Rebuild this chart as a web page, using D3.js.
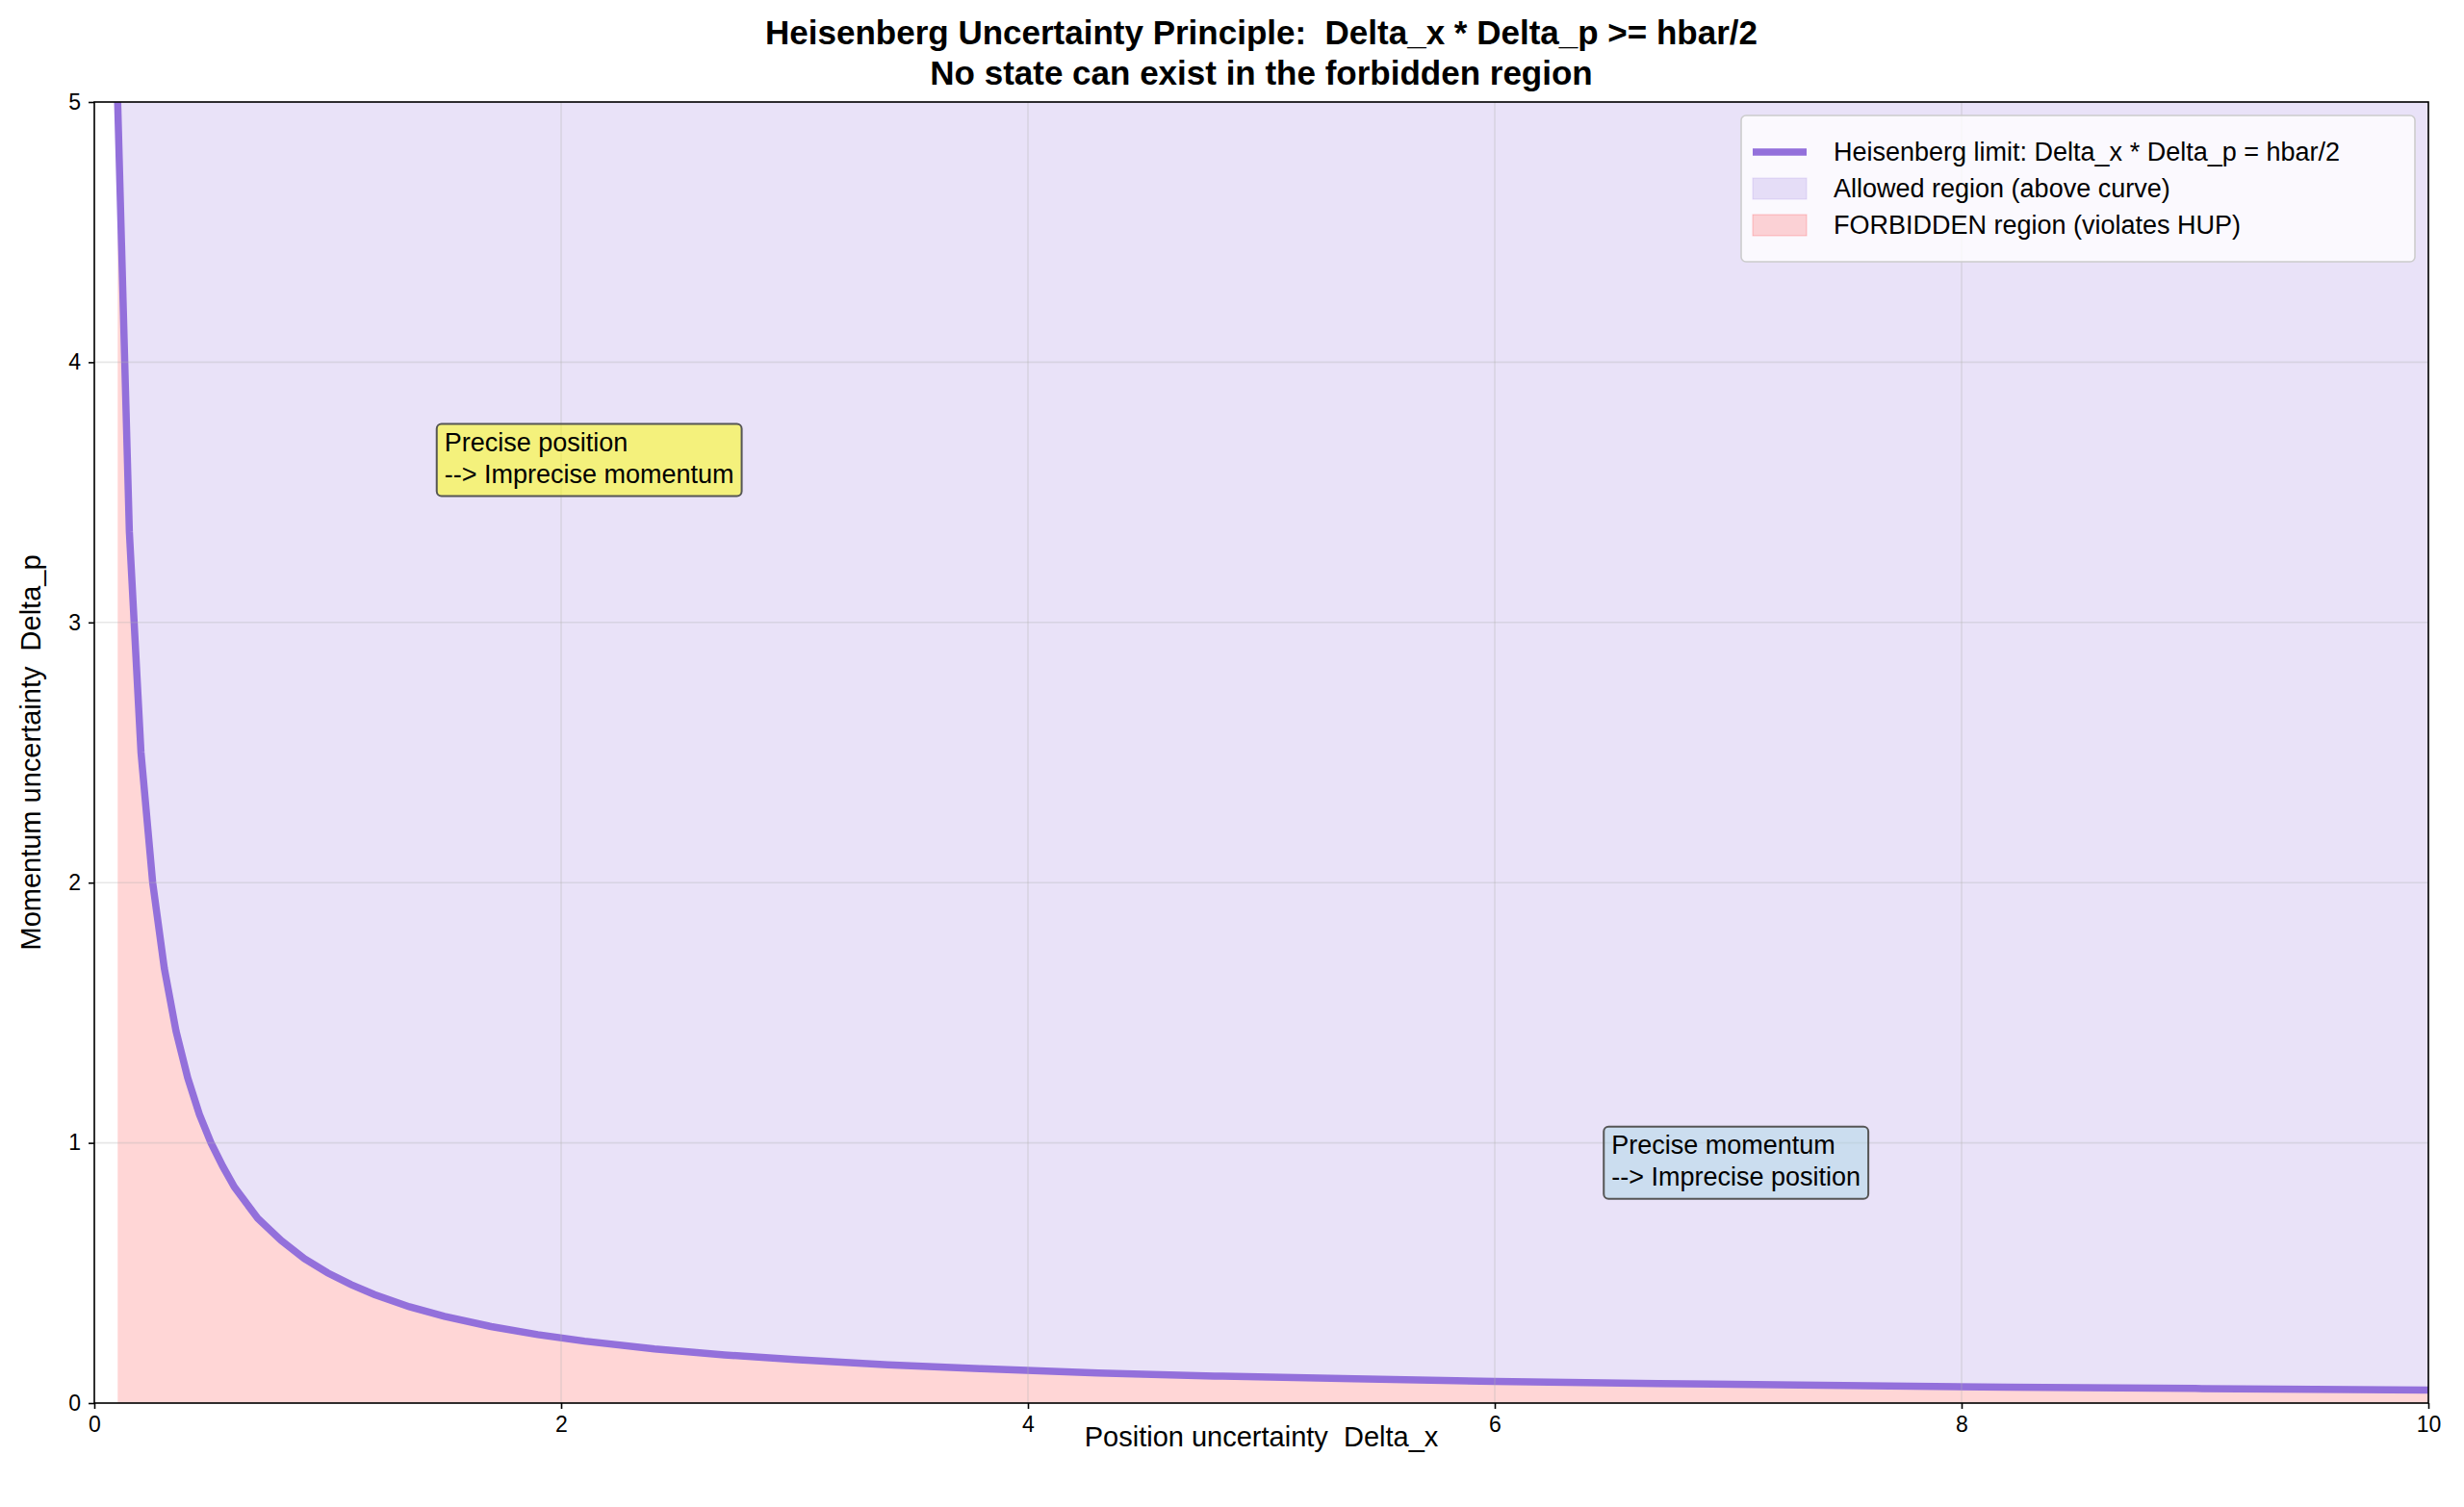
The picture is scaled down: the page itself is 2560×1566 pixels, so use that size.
<!DOCTYPE html>
<html><head><meta charset="utf-8">
<script src="https://cdn.jsdelivr.net/npm/d3@7"></script>
<style>body{margin:0;background:#fff}svg{display:block;font-family:"Liberation Sans",Arial,sans-serif}text{white-space:pre}</style>
</head><body><svg id="chart" width="2560" height="1566"></svg>
<script>
const dx = [0.1, 0.15, 0.2, 0.25, 0.3, 0.35, 0.4, 0.45, 0.5, 0.55, 0.6, 0.65, 0.7, 0.8, 0.9, 1.0, 1.1, 1.2, 1.35, 1.5, 1.7, 1.9, 2.1, 2.4, 2.7, 3.0, 3.4, 3.8, 4.3, 4.8, 5.4, 6.0, 6.7, 7.4, 8.2, 9.0, 10.0];
const dp = [5.0, 3.35, 2.5, 2.0, 1.67, 1.43, 1.25, 1.11, 1.0, 0.91, 0.83, 0.77, 0.71, 0.625, 0.555, 0.5, 0.455, 0.417, 0.37, 0.333, 0.294, 0.263, 0.238, 0.208, 0.185, 0.167, 0.147, 0.132, 0.116, 0.104, 0.093, 0.083, 0.075, 0.068, 0.061, 0.056, 0.05];
const xTicks = [0, 2, 4, 6, 8, 10];
const yTicks = [0, 1, 2, 3, 4, 5];
const legendLabels = ["Heisenberg limit: Delta_x * Delta_p = hbar/2", "Allowed region (above curve)", "FORBIDDEN region (violates HUP)"];
const notes = [
  { x: 1.5, y: 3.5, lines: ["Precise position", "--> Imprecise momentum"], fill: "rgba(255,255,0,0.5)" },
  { x: 6.5, y: 0.8, lines: ["Precise momentum", "--> Imprecise position"], fill: "rgba(173,216,230,0.5)" }
];

const margin = { top: 106, right: 37, bottom: 108, left: 98 };
const W = 2560, H = 1566;
const width = W - margin.left - margin.right, height = H - margin.top - margin.bottom;
const svg = d3.select("#chart");
const g = svg.append("g").attr("transform", `translate(${margin.left},${margin.top})`);
const x = d3.scaleLinear().domain([0, 10]).range([0, width]);
const y = d3.scaleLinear().domain([0, 5]).range([height, 0]);
const pts = dx.map((d, i) => [d, dp[i]]);

g.append("defs").append("clipPath").attr("id", "clip").append("rect").attr("width", width).attr("height", height);
const plot = g.append("g").attr("clip-path", "url(#clip)");

plot.append("path").datum(pts)
  .attr("d", d3.area().x(d => x(d[0])).y0(y(5)).y1(d => y(d[1])))
  .attr("fill", "mediumpurple").attr("fill-opacity", 0.2);
plot.append("path").datum(pts)
  .attr("d", d3.area().x(d => x(d[0])).y0(y(0)).y1(d => y(d[1])))
  .attr("fill", "red").attr("fill-opacity", 0.16);

// grid
g.append("g").selectAll("line").data(xTicks).join("line")
  .attr("x1", d => x(d)).attr("x2", d => x(d)).attr("y1", 0).attr("y2", height)
  .attr("stroke", "#b0b0b0").attr("stroke-opacity", 0.3).attr("stroke-width", 1.6);
g.append("g").selectAll("line").data(yTicks).join("line")
  .attr("y1", d => y(d)).attr("y2", d => y(d)).attr("x1", 0).attr("x2", width)
  .attr("stroke", "#b0b0b0").attr("stroke-opacity", 0.3).attr("stroke-width", 1.6);

plot.append("path").datum(pts)
  .attr("d", d3.line().x(d => x(d[0])).y(d => y(d[1])))
  .attr("fill", "none").attr("stroke", "mediumpurple").attr("stroke-width", 7.5);

// annotations
notes.forEach(n => {
  const t = g.append("text").attr("font-size", 27).attr("fill", "#000");
  n.lines.forEach((l, i) => t.append("tspan").attr("x", x(n.x)).attr("y", y(n.y) - 10 - (n.lines.length - 1 - i) * 33).text(l));
  const b = t.node().getBBox();
  g.insert("rect", () => t.node())
    .attr("x", b.x - 8).attr("y", b.y - 4).attr("width", b.width + 16).attr("height", b.height + 12)
    .attr("rx", 5).attr("fill", n.fill).attr("stroke", "#555").attr("stroke-width", 2);
});

// axes
const xa = g.append("g").attr("transform", `translate(0,${height})`).call(d3.axisBottom(x).tickValues(xTicks).tickSize(6).tickPadding(8).tickFormat(d3.format("d")));
const ya = g.append("g").call(d3.axisLeft(y).tickValues(yTicks).tickSize(6).tickPadding(8).tickFormat(d3.format("d")));
[xa, ya].forEach(a => {
  a.selectAll("text").attr("font-size", 23).attr("font-family", "Liberation Sans, Arial");
  a.selectAll("line").attr("stroke-width", 1.6);
  a.select(".domain").remove();
});
g.append("rect").attr("width", width).attr("height", height).attr("fill", "none").attr("stroke", "#000").attr("stroke-width", 1.6);

svg.append("text").attr("x", margin.left + width / 2).attr("y", 1503).attr("text-anchor", "middle").attr("font-size", 29).text("Position uncertainty  Delta_x");
svg.append("text").attr("transform", `translate(42,${margin.top + height / 2}) rotate(-90)`).attr("text-anchor", "middle").attr("font-size", 29).text("Momentum uncertainty  Delta_p");
svg.append("text").attr("x", margin.left + width / 2).attr("y", 46).attr("text-anchor", "middle").attr("font-size", 35).attr("font-weight", "bold").text("Heisenberg Uncertainty Principle:  Delta_x * Delta_p >= hbar/2");
svg.append("text").attr("x", margin.left + width / 2).attr("y", 88).attr("text-anchor", "middle").attr("font-size", 35).attr("font-weight", "bold").text("No state can exist in the forbidden region");

// legend
const lg = g.append("g").attr("transform", `translate(${width - 714},14)`);
lg.append("rect").attr("width", 714 - 14).attr("height", 152).attr("rx", 5).attr("fill", "rgba(255,255,255,0.8)").attr("stroke", "#ccc").attr("stroke-width", 1.6);
legendLabels.forEach((l, i) => {
  const cy = 38 + i * 38;
  if (i === 0) lg.append("line").attr("x1", 12).attr("x2", 68).attr("y1", cy).attr("y2", cy).attr("stroke", "mediumpurple").attr("stroke-width", 7.5);
  else lg.append("rect").attr("x", 12).attr("y", cy - 11).attr("width", 56).attr("height", 22)
    .attr("fill", i === 1 ? "mediumpurple" : "red").attr("fill-opacity", i === 1 ? 0.2 : 0.16)
    .attr("stroke", i === 1 ? "mediumpurple" : "red").attr("stroke-opacity", 0.2);
  lg.append("text").attr("x", 96).attr("y", cy + 9).attr("font-size", 27).text(l);
});
</script></body></html>
